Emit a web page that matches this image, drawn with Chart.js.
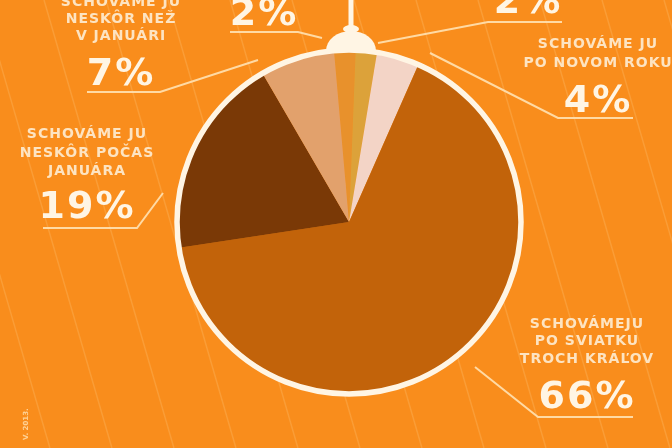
<!DOCTYPE html>
<html>
<head>
<meta charset="utf-8">
<script src="https://cdn.jsdelivr.net/npm/chart.js@4.4.0/dist/chart.umd.min.js"></script>
<style>
  html, body { margin: 0; padding: 0; background: #f98d1c; overflow: hidden; }
  #wrap { width: 672px; height: 448px; }
</style>
</head>
<body>
<div id="wrap"><canvas id="pieChart" width="672" height="448"></canvas></div>
<script>
// Data
const categories = [
    'Schováme ju (2%)',
    'Schováme ju (2%)',
    'Schováme ju po novom roku',
    'Schovámeju po sviatku Troch kráľov',
    'Schováme ju neskôr počas januára',
    'Schováme ju neskôr než v januári'
];
const values = [2, 2, 4, 66, 19, 7];
const valueLabels = ['2%', '2%', '4%', '66%', '19%', '7%'];
const labelLines = [
    [],
    [],
    ['SCHOVÁME JU', 'PO NOVOM ROKU'],
    ['SCHOVÁMEJU', 'PO SVIATKU', 'TROCH KRÁĽOV'],
    ['SCHOVÁME JU', 'NESKÔR POČAS', 'JANUÁRA'],
    ['SCHOVÁME JU', 'NESKÔR NEŽ', 'V JANUÁRI']
];
const footnote = 'V. 2013.';

// Styles
const sliceColors = ['#e8912c', '#dca23a', '#f3d4c6', '#c2630a', '#7a3906', '#e2a16c'];
const bgColor = '#f98d1c';
const cream = '#fff5e4';

// Where each annotation sits (text centre x, line baselines, % baseline, leader polyline)
const annotations = [
    { x: 264, lineYs: [], pctY: 25, leader: [[230, 32], [298, 32], [322, 38]] },
    { x: 528, lineYs: [], pctY: 13, leader: [[562, 22], [488, 22], [378, 43]] },
    { x: 598, lineYs: [48, 67], pctY: 112, leader: [[633, 118], [558, 118], [430, 53]] },
    { x: 587, lineYs: [328, 345, 363], pctY: 408, leader: [[633, 417], [538, 417], [475, 367]] },
    { x: 87, lineYs: [138, 157, 175], pctY: 218, leader: [[43, 228], [137, 228], [163, 193]] },
    { x: 121, lineYs: [6, 23, 40], pctY: 85, leader: [[87, 92], [160, 92], [258, 60]] }
];

// --- Background, ring, knob and labels ---
const infographic = {
    id: 'infographic',
    beforeDraw(chart) {
        const ctx = chart.ctx;
        ctx.save();
        ctx.fillStyle = bgColor;
        ctx.fillRect(0, 0, chart.width, chart.height);
        // faint diagonal stripes
        ctx.strokeStyle = 'rgba(255, 214, 150, 0.22)';
        ctx.lineWidth = 1.5;
        for (let k = -3; k < 13; k++) {
            const x = 7 + k * 62;
            ctx.beginPath();
            ctx.moveTo(x - 0.29 * 300, 0);
            ctx.lineTo(x + 0.29 * 148, chart.height);
            ctx.stroke();
        }
        ctx.restore();
    },
    afterDatasetsDraw(chart) {
        const ctx = chart.ctx;
        const arc = chart.getDatasetMeta(0).data[0];
        const cx = arc.x, cy = arc.y, r = arc.outerRadius;
        ctx.save();

        // white ring
        ctx.strokeStyle = cream;
        ctx.lineWidth = 5.5;
        ctx.beginPath();
        ctx.arc(cx, cy, r + 2, 0, Math.PI * 2);
        ctx.stroke();

        // ornament knob on top
        const kx = cx + 2;
        ctx.fillStyle = cream;
        ctx.fillRect(kx - 2.5, 0, 5, 30);
        ctx.beginPath();
        ctx.ellipse(kx, cy - r - 1, 25, 20, 0, Math.PI, Math.PI * 2);
        ctx.fill();
        ctx.beginPath();
        ctx.ellipse(kx, 29, 8, 4, 0, 0, Math.PI * 2);
        ctx.fill();

        // leader lines
        ctx.strokeStyle = 'rgba(255, 226, 180, 0.9)';
        ctx.lineWidth = 2;
        annotations.forEach(a => {
            ctx.beginPath();
            a.leader.forEach((p, i) => i ? ctx.lineTo(p[0], p[1]) : ctx.moveTo(p[0], p[1]));
            ctx.stroke();
        });

        // texts
        ctx.textAlign = 'center';
        ctx.textBaseline = 'alphabetic';
        annotations.forEach((a, i) => {
            ctx.fillStyle = '#fde4c2';
            ctx.font = 'bold 14px "DejaVu Sans"';
            ctx.letterSpacing = '1px';
            labelLines[i].forEach((t, j) => ctx.fillText(t, a.x, a.lineYs[j]));
            ctx.fillStyle = cream;
            ctx.font = 'bold 38px "DejaVu Sans"';
            ctx.letterSpacing = '2px';
            ctx.fillText(valueLabels[i], a.x, a.pctY);
        });

        // tiny rotated footnote
        ctx.letterSpacing = '0px';
        ctx.font = 'bold 7px "DejaVu Sans"';
        ctx.fillStyle = 'rgba(255, 226, 180, 0.8)';
        ctx.translate(28, 440);
        ctx.rotate(-Math.PI / 2);
        ctx.textAlign = 'left';
        ctx.fillText(footnote, 0, 0);
        ctx.restore();
    }
};

const ctx = document.getElementById('pieChart').getContext('2d');
const pieChart = new Chart(ctx, {
    type: 'pie',
    data: {
        labels: categories,
        datasets: [{
            data: values,
            backgroundColor: sliceColors,
            borderWidth: 0
        }]
    },
    options: {
        responsive: false,
        animation: false,
        rotation: -5,
        events: [],
        layout: { padding: { top: 52, bottom: 56, left: 179, right: 153 } },
        plugins: {
            legend: { display: false },
            tooltip: { enabled: false }
        }
    },
    plugins: [infographic]
});
</script>
</body>
</html>
